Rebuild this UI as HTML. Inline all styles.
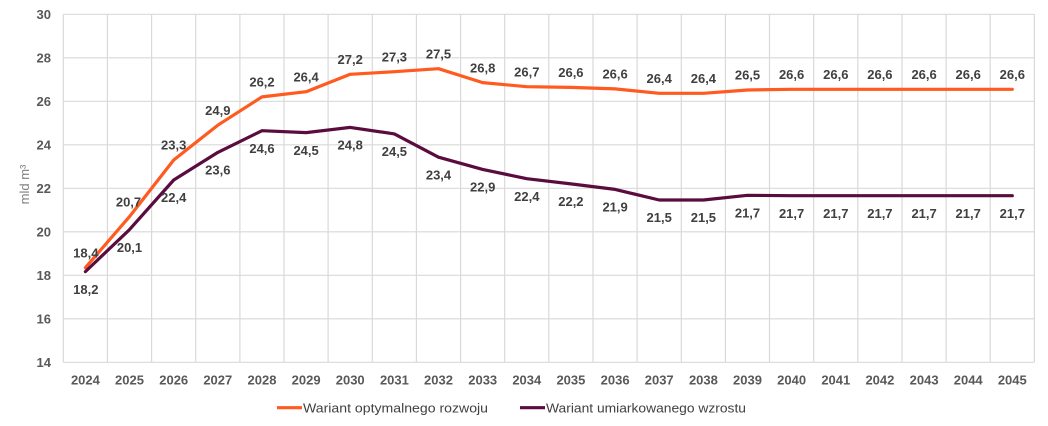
<!DOCTYPE html>
<html><head><meta charset="utf-8"><style>
html,body{margin:0;padding:0;background:#fff;}
svg{display:block;}
.lab{font-family:"Liberation Sans",sans-serif;font-weight:bold;font-size:13px;fill:#404040;text-anchor:middle;}
.yt{font-family:"Liberation Sans",sans-serif;font-weight:bold;font-size:13px;fill:#595959;text-anchor:end;}
.xt{font-family:"Liberation Sans",sans-serif;font-weight:bold;font-size:13px;fill:#595959;text-anchor:middle;}
.lg{font-family:"Liberation Sans",sans-serif;font-size:13px;fill:#404040;}
</style></head><body>
<svg width="1048" height="426" viewBox="0 0 1048 426" xmlns="http://www.w3.org/2000/svg">
<rect width="1048" height="426" fill="#fff"/>
<g stroke="#d9d9d9" stroke-width="1.2" fill="none">
<path d="M63.3 14.3H1034.4M63.3 57.8H1034.4M63.3 101.3H1034.4M63.3 144.8H1034.4M63.3 188.3H1034.4M63.3 231.8H1034.4M63.3 275.3H1034.4M63.3 318.8H1034.4M63.3 362.3H1034.4"/>
<path d="M63.3 14.3V362.3M107.4 14.3V362.3M151.6 14.3V362.3M195.7 14.3V362.3M239.9 14.3V362.3M284 14.3V362.3M328.1 14.3V362.3M372.3 14.3V362.3M416.4 14.3V362.3M460.6 14.3V362.3M504.7 14.3V362.3M548.8 14.3V362.3M593 14.3V362.3M637.1 14.3V362.3M681.3 14.3V362.3M725.4 14.3V362.3M769.5 14.3V362.3M813.7 14.3V362.3M857.8 14.3V362.3M902 14.3V362.3M946.1 14.3V362.3M990.2 14.3V362.3M1034.4 14.3V362.3"/>
</g>
<g>
<text class="yt" x="51" y="19">30</text>
<text class="yt" x="51" y="62.5">28</text>
<text class="yt" x="51" y="106">26</text>
<text class="yt" x="51" y="149.5">24</text>
<text class="yt" x="51" y="193">22</text>
<text class="yt" x="51" y="236.5">20</text>
<text class="yt" x="51" y="280">18</text>
<text class="yt" x="51" y="323.5">16</text>
<text class="yt" x="51" y="367">14</text>
</g>
<text x="29" y="184.5" transform="rotate(-90 29 184.5)" text-anchor="middle" font-family="Liberation Sans, sans-serif" font-size="13" fill="#7f7f7f">mld m³</text>
<g>
<text class="xt" x="85.4" y="384.7">2024</text>
<text class="xt" x="129.5" y="384.7">2025</text>
<text class="xt" x="173.7" y="384.7">2026</text>
<text class="xt" x="217.8" y="384.7">2027</text>
<text class="xt" x="262" y="384.7">2028</text>
<text class="xt" x="306.1" y="384.7">2029</text>
<text class="xt" x="350.2" y="384.7">2030</text>
<text class="xt" x="394.4" y="384.7">2031</text>
<text class="xt" x="438.5" y="384.7">2032</text>
<text class="xt" x="482.7" y="384.7">2033</text>
<text class="xt" x="526.8" y="384.7">2034</text>
<text class="xt" x="570.9" y="384.7">2035</text>
<text class="xt" x="615.1" y="384.7">2036</text>
<text class="xt" x="659.2" y="384.7">2037</text>
<text class="xt" x="703.4" y="384.7">2038</text>
<text class="xt" x="747.5" y="384.7">2039</text>
<text class="xt" x="791.6" y="384.7">2040</text>
<text class="xt" x="835.8" y="384.7">2041</text>
<text class="xt" x="879.9" y="384.7">2042</text>
<text class="xt" x="924.1" y="384.7">2043</text>
<text class="xt" x="968.2" y="384.7">2044</text>
<text class="xt" x="1012.3" y="384.7">2045</text>
</g>
<polyline fill="none" stroke="#ff5a1f" stroke-width="3.2" stroke-linejoin="round" stroke-linecap="round" points="85.4,267.7 129.5,216.6 173.7,160 217.8,125.2 262,96.9 306.1,91.7 350.2,74.3 394.4,71.7 438.5,68.7 482.7,82.6 526.8,86.7 570.9,87.4 615.1,88.9 659.2,93.3 703.4,93.3 747.5,90 791.6,89.3 835.8,89.3 879.9,89.3 924.1,89.3 968.2,89.3 1012.3,89.3"/>
<polyline fill="none" stroke="#5a0c3e" stroke-width="3.2" stroke-linejoin="round" stroke-linecap="round" points="85.4,271.6 129.5,229.6 173.7,180 217.8,152.4 262,130.7 306.1,132.6 350.2,127.4 394.4,133.9 438.5,157.2 482.7,169.4 526.8,178.7 570.9,183.9 615.1,189.4 659.2,200 703.4,200 747.5,195.3 791.6,195.7 835.8,195.7 879.9,195.7 924.1,195.7 968.2,195.7 1012.3,195.7"/>
<g>
<text class="lab" x="85.8" y="257.4">18,4</text>
<text class="lab" x="128.5" y="206.3">20,7</text>
<text class="lab" x="173.7" y="149.7">23,3</text>
<text class="lab" x="217.8" y="114.9">24,9</text>
<text class="lab" x="262" y="86.6">26,2</text>
<text class="lab" x="306.1" y="81.4">26,4</text>
<text class="lab" x="350.2" y="64">27,2</text>
<text class="lab" x="394.4" y="61.4">27,3</text>
<text class="lab" x="438.5" y="58.4">27,5</text>
<text class="lab" x="482.7" y="72.3">26,8</text>
<text class="lab" x="526.8" y="76.4">26,7</text>
<text class="lab" x="570.9" y="77.1">26,6</text>
<text class="lab" x="615.1" y="78.6">26,6</text>
<text class="lab" x="659.2" y="83">26,4</text>
<text class="lab" x="703.4" y="83">26,4</text>
<text class="lab" x="747.5" y="79.7">26,5</text>
<text class="lab" x="791.6" y="79">26,6</text>
<text class="lab" x="835.8" y="79">26,6</text>
<text class="lab" x="879.9" y="79">26,6</text>
<text class="lab" x="924.1" y="79">26,6</text>
<text class="lab" x="968.2" y="79">26,6</text>
<text class="lab" x="1012.3" y="79">26,6</text>
</g>
<g>
<text class="lab" x="85.8" y="293.8">18,2</text>
<text class="lab" x="129.5" y="251.8">20,1</text>
<text class="lab" x="173.7" y="202.2">22,4</text>
<text class="lab" x="217.8" y="174.6">23,6</text>
<text class="lab" x="262" y="152.9">24,6</text>
<text class="lab" x="306.1" y="154.8">24,5</text>
<text class="lab" x="350.2" y="149.6">24,8</text>
<text class="lab" x="394.4" y="156.1">24,5</text>
<text class="lab" x="438.5" y="179.4">23,4</text>
<text class="lab" x="482.7" y="191.6">22,9</text>
<text class="lab" x="526.8" y="200.9">22,4</text>
<text class="lab" x="570.9" y="206.1">22,2</text>
<text class="lab" x="615.1" y="211.6">21,9</text>
<text class="lab" x="659.2" y="222.2">21,5</text>
<text class="lab" x="703.4" y="222.2">21,5</text>
<text class="lab" x="747.5" y="217.5">21,7</text>
<text class="lab" x="791.6" y="217.9">21,7</text>
<text class="lab" x="835.8" y="217.9">21,7</text>
<text class="lab" x="879.9" y="217.9">21,7</text>
<text class="lab" x="924.1" y="217.9">21,7</text>
<text class="lab" x="968.2" y="217.9">21,7</text>
<text class="lab" x="1012.3" y="217.9">21,7</text>
</g>
<line x1="277" y1="407.7" x2="302" y2="407.7" stroke="#ff5a1f" stroke-width="3.2"/>
<text class="lg" x="303" y="412.3" textLength="185" lengthAdjust="spacingAndGlyphs">Wariant optymalnego rozwoju</text>
<line x1="520" y1="407.7" x2="545" y2="407.7" stroke="#5a0c3e" stroke-width="3.2"/>
<text class="lg" x="546" y="412.3" textLength="200" lengthAdjust="spacingAndGlyphs">Wariant umiarkowanego wzrostu</text>
</svg>
</body></html>
